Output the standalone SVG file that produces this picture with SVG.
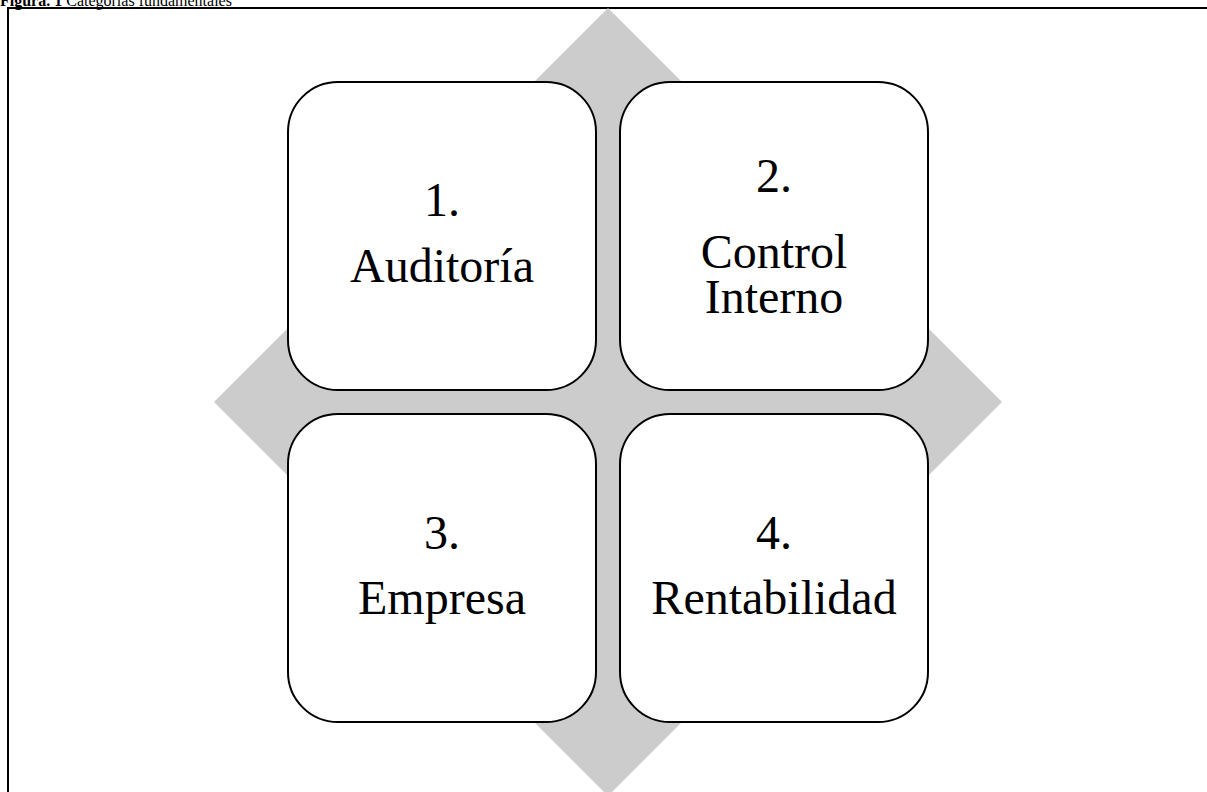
<svg xmlns="http://www.w3.org/2000/svg" width="1207" height="792" viewBox="0 0 1207 792">
<style>
.box{fill:#fff;stroke:#000;stroke-width:2}
.lbl{font-family:"Liberation Serif","Times New Roman",serif;font-size:48px;fill:#000;text-anchor:middle}
.ttl{font-family:"Liberation Serif","Times New Roman",serif;font-size:16px;fill:#000}
</style>
<rect width="1207" height="792" fill="#fff"/>
<text class="ttl" x="0" y="6"><tspan font-weight="bold">Figura. 1</tspan> Categorías fundamentales</text>
<rect x="8" y="8" width="1220" height="800" fill="none" stroke="#000" stroke-width="2"/>
<polygon points="608,8 1002,402 608,796 214,402" fill="#cccccc"/>
<g id="connectors"></g>
<g id="node1">
<rect class="box" x="288" y="82" width="308" height="308" rx="50" ry="50"/>
<text class="lbl" x="442" y="216">1.</text>
<text class="lbl" x="442" y="282">Auditoría</text>
</g>
<g id="node2">
<rect class="box" x="620" y="82" width="308" height="308" rx="50" ry="50"/>
<text class="lbl" x="774" y="192">2.</text>
<text class="lbl" x="774" y="268">Control</text>
<text class="lbl" x="774" y="313">Interno</text>
</g>
<g id="node3">
<rect class="box" x="288" y="414" width="308" height="308" rx="50" ry="50"/>
<text class="lbl" x="442" y="549">3.</text>
<text class="lbl" x="442" y="614">Empresa</text>
</g>
<g id="node4">
<rect class="box" x="620" y="414" width="308" height="308" rx="50" ry="50"/>
<text class="lbl" x="774" y="549">4.</text>
<text class="lbl" x="774" y="614">Rentabilidad</text>
</g>
</svg>
